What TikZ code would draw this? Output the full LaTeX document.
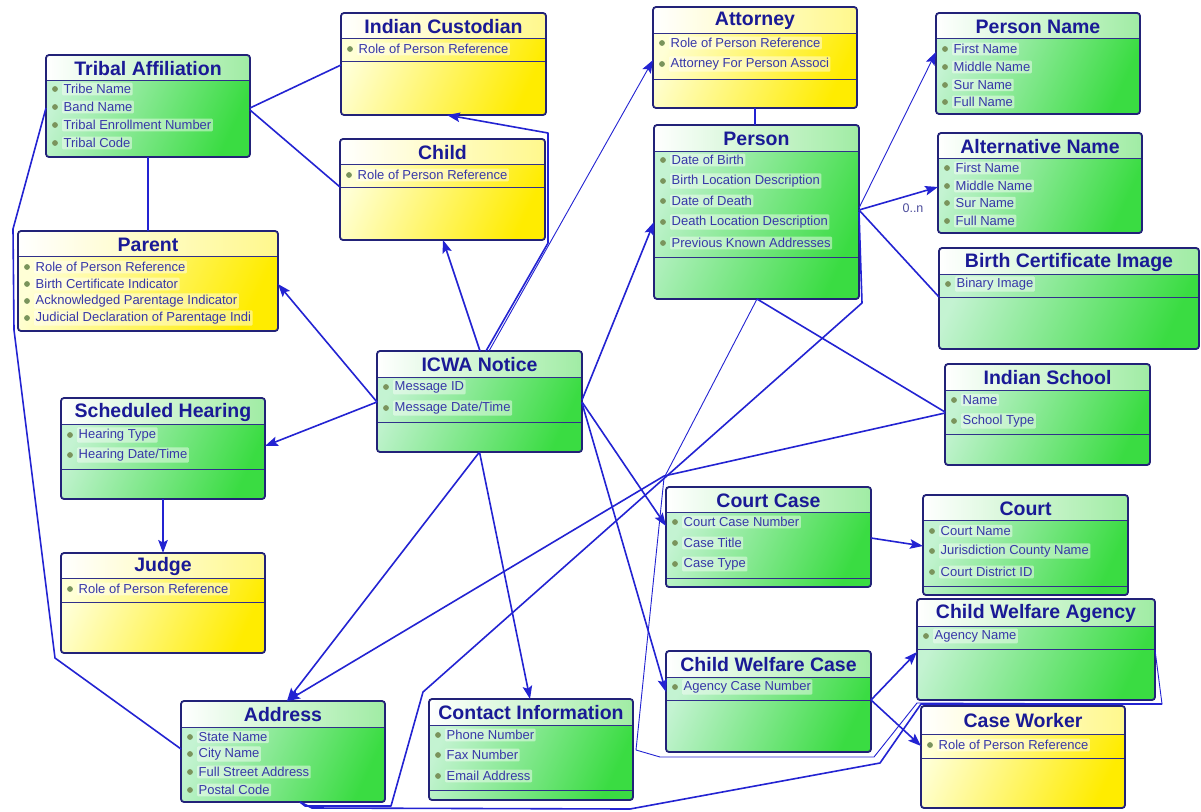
\documentclass[tikz,border=0pt]{standalone}
\usepackage{fontspec}
\setmainfont{Liberation Sans}
\usetikzlibrary{arrows.meta,calc}

\definecolor{grnL}{RGB}{196,243,210}
\definecolor{grnR}{RGB}{58,220,66}
\definecolor{grnT}{RGB}{160,236,164}
\definecolor{yelL}{RGB}{255,255,214}
\definecolor{yelR}{RGB}{255,236,0}
\definecolor{yelT}{RGB}{255,248,140}
\definecolor{edgeblue}{RGB}{34,34,120}
\definecolor{sepblue}{RGB}{48,48,138}
\definecolor{titleblue}{RGB}{26,26,150}
\definecolor{attrblue}{RGB}{55,55,168}
\definecolor{dotgreen}{RGB}{122,148,92}
\definecolor{wire}{RGB}{35,35,210}

\tikzset{
  classbody/.style={rectangle, inner sep=0pt, outer sep=0pt, rounded corners=3pt},
  grnbody/.style={left color=grnL, right color=grnR, shading angle=65},
  yelbody/.style={left color=yelL, right color=yelR, shading angle=65},
  titletext/.style={font=\bfseries\fontsize{19.5}{20}\selectfont, text=titleblue, inner sep=0pt},
  attrtext/.style={font=\fontsize{13}{13}\selectfont, text=attrblue, fill=white,
    fill opacity=0.45, text opacity=1, inner sep=1.5pt, rounded corners=1pt, anchor=west},
  conn/.style={draw=wire, line width=1.6pt, line join=round},
  thinconn/.style={draw=wire, line width=0.9pt, line join=round},
  tip/.style={-{Stealth[length=13pt,width=9.5pt,inset=2.5pt]}},
  multlabel/.style={font=\fontsize{12.5}{12.5}\selectfont, text=attrblue!70!gray, inner sep=1pt}
}

% #1 name, #2 x1, #3 y1, #4 x2, #5 y2, #6 scheme (grn/yel), #7 title,
% #8 bottom of title band, #9 y of the lower compartment line (0 = none)
\newcommand\classbox[9]{%
  \node[classbody, #6body, minimum width={(#4-#2)*1pt}, minimum height={(#5-#3)*1pt}]
    (#1) at ({(#2+#4)/2},{(#3+#5)/2}) {};
  \begin{scope}
    \clip[rounded corners=3pt] (#2,#3) rectangle (#4,#5);
    \shade[left color=white, right color=#6T] (#2,#3) rectangle (#4,#8);
  \end{scope}
  \draw[sepblue, line width=1pt] (#2,#8) -- (#4,#8);
  \ifnum#9>0 \draw[sepblue, line width=1pt] (#2,#9) -- (#4,#9);\fi
  \draw[edgeblue, line width=1.8pt, rounded corners=3pt] (#2,#3) rectangle (#4,#5);
  \node[titletext] at ({(#2+#4)/2},{(#3+#8)/2+1}) {#7};
}

% #1 box, #2 y, #3 attribute text
\newcommand\attr[3]{%
  \fill[dotgreen] ($(#1.west |- 0,#2)+(9,0)$) circle (2.9pt);
  \node[attrtext] at ($(#1.west |- 0,#2)+(16,0)$) {#3};
}

\begin{document}
\begin{tikzpicture}[x=1pt, y=-1pt]
\useasboundingbox (0,0) rectangle (1201,811);
\fill[white] (0,0) rectangle (1201,811);

% ---------- classes ----------
\classbox{ta}{46}{55}{250}{157}{grn}{Tribal Affiliation}{80}{0}
\attr{ta}{89}{Tribe Name}
\attr{ta}{107}{Band Name}
\attr{ta}{125}{Tribal Enrollment Number}
\attr{ta}{143}{Tribal Code}

\classbox{ic}{341}{13}{546}{115}{yel}{Indian Custodian}{38}{61}
\attr{ic}{49}{Role of Person Reference}

\classbox{child}{340}{139}{545}{240}{yel}{Child}{164}{187}
\attr{child}{175}{Role of Person Reference}

\classbox{att}{653}{7}{857}{108}{yel}{Attorney}{33}{79}
\attr{att}{43}{Role of Person Reference}
\attr{att}{64}{Attorney For Person Associ}

\classbox{person}{654}{125}{859}{299}{grn}{Person}{151}{257}
\attr{person}{160}{Date of Birth}
\attr{person}{181}{Birth Location Description}
\attr{person}{201}{Date of Death}
\attr{person}{222}{Death Location Description}
\attr{person}{243}{Previous Known Addresses}

\classbox{pname}{936}{13}{1140}{114}{grn}{Person Name}{38}{0}
\attr{pname}{49}{First Name}
\attr{pname}{67}{Middle Name}
\attr{pname}{85}{Sur Name}
\attr{pname}{102}{Full Name}

\classbox{aname}{938}{133}{1142}{233}{grn}{Alternative Name}{158}{0}
\attr{aname}{168}{First Name}
\attr{aname}{186}{Middle Name}
\attr{aname}{203}{Sur Name}
\attr{aname}{221}{Full Name}

\classbox{bci}{939}{248}{1199}{349}{grn}{Birth Certificate Image}{274}{297}
\attr{bci}{284}{Binary Image}

\classbox{parent}{18}{231}{278}{331}{yel}{Parent}{256}{0}
\attr{parent}{267}{Role of Person Reference}
\attr{parent}{284}{Birth Certificate Indicator}
\attr{parent}{301}{Acknowledged Parentage Indicator}
\attr{parent}{318}{Judicial Declaration of Parentage Indi}

\classbox{icwa}{377}{351}{582}{452}{grn}{ICWA Notice}{377}{422}
\attr{icwa}{387}{Message ID}
\attr{icwa}{408}{Message Date/Time}

\classbox{sh}{61}{398}{265}{499}{grn}{Scheduled Hearing}{424}{469}
\attr{sh}{435}{Hearing Type}
\attr{sh}{455}{Hearing Date/Time}

\classbox{judge}{61}{553}{265}{653}{yel}{Judge}{578}{602}
\attr{judge}{589}{Role of Person Reference}

\classbox{school}{945}{364}{1150}{465}{grn}{Indian School}{390}{434}
\attr{school}{400}{Name}
\attr{school}{421}{School Type}

\classbox{ccase}{666}{487}{871}{587}{grn}{Court Case}{512}{578}
\attr{ccase}{522}{Court Case Number}
\attr{ccase}{543}{Case Title}
\attr{ccase}{564}{Case Type}

\classbox{court}{923}{495}{1128}{595}{grn}{Court}{520}{586}
\attr{court}{531}{Court Name}
\attr{court}{551}{Jurisdiction County Name}
\attr{court}{572}{Court District ID}

\classbox{cwa}{917}{599}{1155}{700}{grn}{Child Welfare Agency}{626}{649}
\attr{cwa}{636}{Agency Name}

\classbox{cwc}{666}{651}{871}{752}{grn}{Child Welfare Case}{677}{700}
\attr{cwc}{687}{Agency Case Number}

\classbox{cw}{921}{706}{1125}{808}{yel}{Case Worker}{734}{758}
\attr{cw}{745}{Role of Person Reference}

\classbox{addr}{181}{701}{385}{802}{grn}{Address}{727}{0}
\attr{addr}{737}{State Name}
\attr{addr}{754}{City Name}
\attr{addr}{772}{Full Street Address}
\attr{addr}{790}{Postal Code}

\classbox{ci}{429}{699}{633}{800}{grn}{Contact Information}{725}{790}
\attr{ci}{735}{Phone Number}
\attr{ci}{755}{Fax Number}
\attr{ci}{776}{Email Address}

% ---------- bend points ----------
\coordinate (taL1) at (13,229);
\coordinate (taL2) at (14,330);
\coordinate (taL3) at (55,658);
\coordinate (icR1) at (548,243);
\coordinate (icR2) at (548,133);
\coordinate (pAd1) at (862,303);
\coordinate (pAd2) at (423,692);
\coordinate (pAd3) at (391,806);
\coordinate (pAd4) at (305,806);
\coordinate (isAd) at (664,476);
\coordinate (pW1) at (664,478);
\coordinate (pW2) at (636,750);
\coordinate (pW3) at (660,757);
\coordinate (pW4) at (874,757);
\coordinate (pW5) at (917,703);
\coordinate (aW1) at (312,808);
\coordinate (aW2) at (630,809);
\coordinate (aW3) at (880,763);
\coordinate (aW4) at (921,704);
\coordinate (cwaR1) at (1162,704);

% ---------- connectors ----------
% Tribal Affiliation
\draw[conn] (ta.east |- 0,108) -- (ic.west |- 0,65);
\draw[conn] (ta.east |- 0,110) -- (child.west |- 0,187);
\draw[conn] (ta.south) -- (parent.north);
\draw[conn] (ta.west |- 0,108) -- (taL1) -- (taL2) -- (taL3) -- (addr.west |- 0,749);

% ICWA Notice
\draw[conn, tip] (icwa.west |- 0,402) -- (parent.east |- 0,284);
\draw[conn, tip] (icwa.west |- 0,402) -- (sh.east |- 0,446);
\draw[conn, tip] (icwa.north -| 480,0) -- (child.south -| 443,0);
\draw[thinconn, tip] (icwa.north -| 489,0) -- (att.west |- 0,60);
\draw[conn, tip] (icwa.north -| 486,0) -- (icR1) -- (icR2) -- (ic.south -| 447,0);
\draw[conn, tip] (icwa.east |- 0,400) -- (person.west |- 0,222);
\draw[conn, tip] (icwa.east |- 0,402) -- (ccase.west |- 0,526);
\draw[conn, tip] (icwa.east |- 0,403) -- (cwc.west |- 0,692);
\draw[conn, tip] (icwa.south) -- (addr.north -| 287,0);
\draw[conn, tip] (icwa.south) -- (ci.north -| 530,0);

% Person
\draw[conn] (att.south) -- (att.south |- person.north);
\draw[thinconn, tip] (person.east |- 0,208) -- (pname.west |- 0,52);
\draw[conn, tip] (person.east |- 0,210) -- (aname.west |- 0,187);
\node[multlabel] (mult) at (913,208) {0..n};
\draw[conn] (person.east |- 0,210) -- (bci.west |- 0,297);
\draw[conn] (person.south -| 757,0) -- (school.west |- 0,412);
\draw[conn] (person.east |- 0,212) -- (pAd1) -- (pAd2) -- (pAd3) -- (pAd4) -- (addr.south -| 300,0);
\draw[thinconn] (person.south -| 757,0) -- (pW1) -- (pW2) -- (pW3) -- (pW4) -- (pW5) -- (cwaR1) -- (cwa.east |- 0,650);

% Indian School
\draw[conn, tip] (school.west |- 0,413) -- (isAd) -- (addr.north -| 287,0);

% Address to agency
\draw[conn] (addr.south -| 300,0) -- (aW1) -- (aW2) -- (aW3) -- (aW4) -- (cwaR1);

% Court case and welfare case
\draw[conn, tip] (ccase.east |- 0,538) -- (court.west |- 0,546);
\draw[conn, tip] (cwc.east |- 0,700) -- (cwa.west |- 0,652);
\draw[conn, tip] (cwc.east |- 0,700) -- (cw.west |- 0,746);

% Scheduled hearing
\draw[conn, tip] (sh.south) -- (judge.north);

\end{tikzpicture}
\end{document}
